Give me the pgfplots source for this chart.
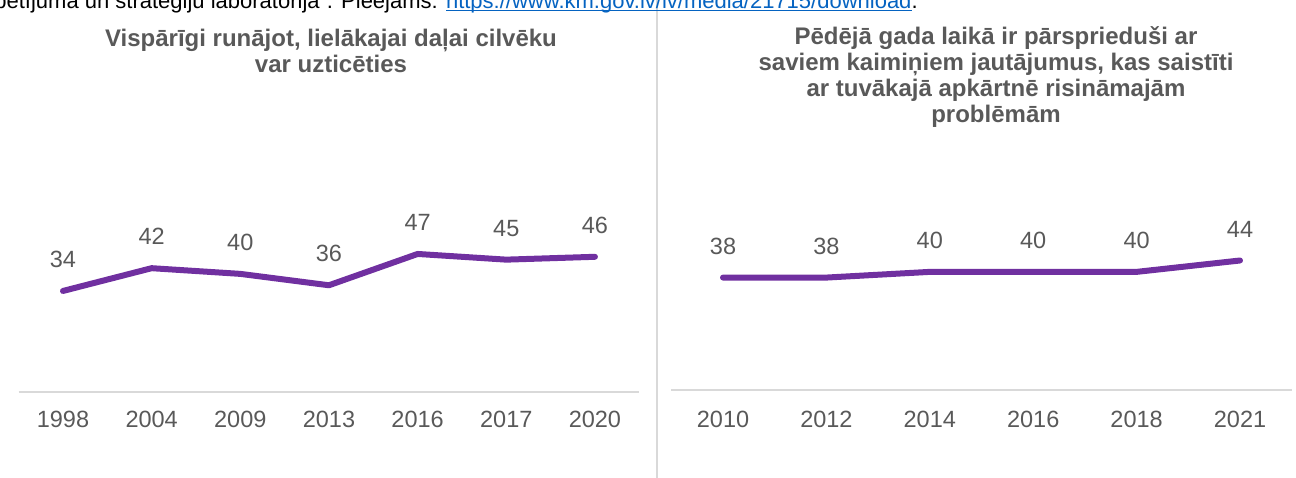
\documentclass[border=0pt]{standalone}
\usepackage{fontspec}
\setmainfont{Liberation Sans}
\usepackage{pgfplots}
\pgfplotsset{compat=1.18}
\definecolor{purp}{HTML}{7030A0}
\definecolor{txt}{HTML}{595959}
\definecolor{axl}{HTML}{D9D9D9}
\definecolor{lnk}{HTML}{0563C1}
\newcommand\myul[1]{\setbox0\hbox{#1}\rlap{\rule[-1.1pt]{\wd0}{0.5pt}}\box0}
\pgfplotsset{
  mystyle/.style={
    scale only axis,
    axis x line=bottom,
    axis y line=none,
    ymin=-1.5, ymax=100,
    xmin=-0.5,
    xtick=data,
    x axis line style={draw=axl, line width=1pt, -},
    major tick length=0pt,
    xtick style={draw=none},
    xticklabel style={font=\fontsize{11.75}{13}\selectfont, text=txt, anchor=base, inner sep=0pt},
    /pgf/number format/assume math mode=true,
    nodes near coords,
    every node near coord/.append style={font=\fontsize{11.75}{13}\selectfont, text=txt, anchor=center, inner sep=0pt, yshift=15.75pt},
    clip=false,
  },
  myline/.style={draw=purp, line width=3pt, line join=round, line cap=round, mark=none},
}
\begin{document}
\begin{tikzpicture}[x=1pt,y=1pt]
\useasboundingbox (0,0) rectangle (648,238.5);
\clip (0,0) rectangle (648,238.5);
\draw[axl, line width=1pt] (328.5,-1) -- (328.5,240);
\node[anchor=base west, inner sep=0pt, font=\fontsize{11}{13}\selectfont, text=black] at (-3,234) {pētījuma un stratēģiju laboratorija”. Pieejams: \textcolor{lnk}{\myul{https://www.km.gov.lv/lv/media/21715/download}}.};

\begin{scope}[font=\fontsize{12}{13}\selectfont\bfseries]
\node[anchor=base, inner sep=0pt, text=txt] at (165.5,215) {Vispārīgi runājot, lielākajai daļai cilvēku};
\node[anchor=base, inner sep=0pt, text=txt] at (165.5,202) {var uzticēties};
\node[anchor=base, inner sep=0pt, text=txt] at (498,216) {Pēdējā gada laikā ir pārsprieduši ar};
\node[anchor=base, inner sep=0pt, text=txt] at (498,203) {saviem kaimiņiem jautājumus, kas saistīti};
\node[anchor=base, inner sep=0pt, text=txt] at (498,190) {ar tuvākajā apkārtnē risināmajām};
\node[anchor=base, inner sep=0pt, text=txt] at (498,177) {problēmām};
\end{scope}

\begin{axis}[mystyle,
  at={(9.33pt,42.5pt)}, anchor=south west,
  width=310.3pt, height=144.45pt,
  xmax=6.5,
  xticklabels={1998,2004,2009,2013,2016,2017,2020},
  xticklabel style={yshift=-17.5pt},
]
\addplot[myline] coordinates {(0,34) (1,42) (2,40) (3,36) (4,47) (5,45) (6,46)};
\end{axis}

\begin{axis}[mystyle,
  at={(335.65pt,43.5pt)}, anchor=south west,
  width=310.2pt, height=144.45pt,
  xmax=5.5,
  xticklabels={2010,2012,2014,2016,2018,2021},
  xticklabel style={yshift=-18.5pt},
]
\addplot[myline] coordinates {(0,38) (1,38) (2,40) (3,40) (4,40) (5,44)};
\end{axis}
\end{tikzpicture}
\end{document}
